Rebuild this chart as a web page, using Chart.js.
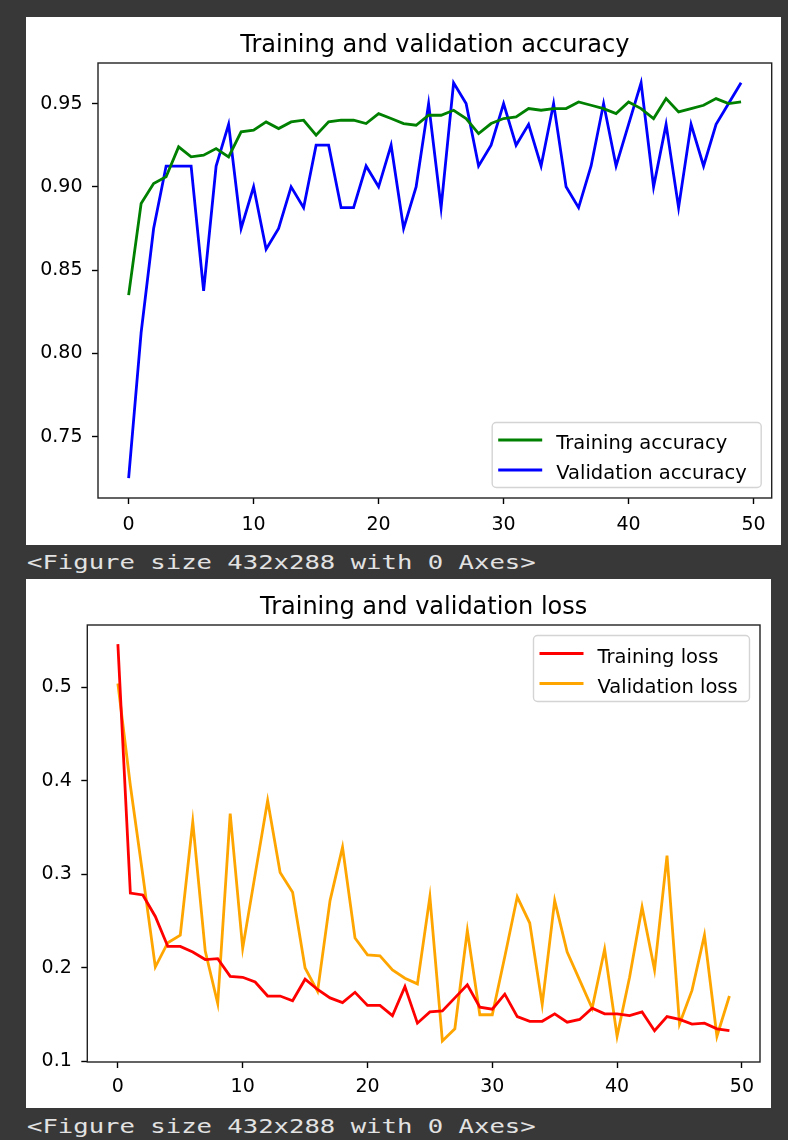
<!DOCTYPE html>
<html lang="en">
<head>
<meta charset="UTF-8" />
<title>Training and validation curves</title>
<script src="https://cdn.jsdelivr.net/npm/chart.js@4.4.1/dist/chart.umd.min.js"></script>
<style>
  html, body { margin: 0; padding: 0; }
  body { width: 788px; height: 1140px; background: #383838; position: relative; overflow: hidden; }
  .panel { position: absolute; left: 26px; background: #fff; }
  #accPanel { top: 17px; width: 755px; height: 528px; }
  #lossPanel { top: 579px; width: 745px; height: 529px; }
  .out {
    position: absolute; left: 27px; margin: 0;
    font-family: "DejaVu Sans Mono", monospace; font-size: 20px; line-height: 20px;
    color: #e2e2e2; white-space: pre;
    transform: scaleX(1.28); transform-origin: left top;
  }
</style>
</head>
<body>
  <div class="panel" id="accPanel"><canvas id="accChart" width="755" height="528"></canvas></div>
  <div class="out" style="top:552px">&lt;Figure size 432x288 with 0 Axes&gt;</div>
  <div class="panel" id="lossPanel"><canvas id="lossChart" width="745" height="529"></canvas></div>
  <div class="out" style="top:1116px">&lt;Figure size 432x288 with 0 Axes&gt;</div>

<script>
// epochs on the x axis
const epochs = [0, 1, 2, 3, 4, 5, 6, 7, 8, 9, 10, 11, 12, 13, 14, 15, 16, 17, 18, 19,
  20, 21, 22, 23, 24, 25, 26, 27, 28, 29, 30, 31, 32, 33, 34, 35, 36, 37, 38, 39,
  40, 41, 42, 43, 44, 45, 46, 47, 48, 49];

// accuracy per epoch
const trainAcc = [0.835, 0.890, 0.902, 0.906, 0.924, 0.918, 0.919, 0.923, 0.918, 0.933,
  0.934, 0.939, 0.935, 0.939, 0.940, 0.931, 0.939, 0.940, 0.940, 0.938,
  0.944, 0.941, 0.938, 0.937, 0.943, 0.943, 0.946, 0.941, 0.932, 0.938,
  0.941, 0.942, 0.947, 0.946, 0.947, 0.947, 0.951, 0.949, 0.947, 0.944,
  0.951, 0.947, 0.941, 0.953, 0.945, 0.947, 0.949, 0.953, 0.950, 0.951];
const valAcc = [0.725, 0.8125, 0.875, 0.9125, 0.9125, 0.9125, 0.8375, 0.9125, 0.9375, 0.875,
  0.900, 0.8625, 0.875, 0.900, 0.8875, 0.925, 0.925, 0.8875, 0.8875, 0.9125,
  0.900, 0.925, 0.875, 0.900, 0.950, 0.8875, 0.9625, 0.950, 0.9125, 0.925,
  0.950, 0.925, 0.9375, 0.9125, 0.950, 0.900, 0.8875, 0.9125, 0.950, 0.9125,
  0.9375, 0.9625, 0.900, 0.9375, 0.8875, 0.9375, 0.9125, 0.9375, 0.950, 0.9625];

// loss per epoch
const trainLoss = [0.546, 0.280, 0.278, 0.255, 0.223, 0.223, 0.217, 0.209, 0.210, 0.191,
  0.190, 0.185, 0.170, 0.170, 0.165, 0.188, 0.177, 0.168, 0.163, 0.174,
  0.160, 0.160, 0.149, 0.180, 0.141, 0.153, 0.154, 0.168, 0.182, 0.158,
  0.156, 0.172, 0.148, 0.143, 0.143, 0.151, 0.142, 0.145, 0.157, 0.151,
  0.151, 0.149, 0.153, 0.133, 0.148, 0.145, 0.140, 0.141, 0.135, 0.133];
const valLoss = [0.504, 0.395, 0.299, 0.201, 0.227, 0.235, 0.356, 0.218, 0.162, 0.365,
  0.221, 0.300, 0.379, 0.302, 0.281, 0.200, 0.175, 0.272, 0.329, 0.232,
  0.214, 0.213, 0.198, 0.189, 0.183, 0.276, 0.122, 0.135, 0.240, 0.150,
  0.150, 0.212, 0.276, 0.248, 0.161, 0.272, 0.217, 0.187, 0.157, 0.220,
  0.127, 0.190, 0.265, 0.198, 0.320, 0.140, 0.176, 0.235, 0.127, 0.170];

// tick positions and labels
const xTicks = [0, 10, 20, 30, 40, 50];
const accTicks = [0.75, 0.80, 0.85, 0.90, 0.95];
const accTickLabels = ['0.75', '0.80', '0.85', '0.90', '0.95'];
const lossTicks = [0.1, 0.2, 0.3, 0.4, 0.5];
const lossTickLabels = ['0.1', '0.2', '0.3', '0.4', '0.5'];

const FONT = '"DejaVu Sans", sans-serif';

function roundRect(ctx, x, y, w, h, r) {
  ctx.beginPath();
  ctx.moveTo(x + r, y);
  ctx.arcTo(x + w, y, x + w, y + h, r);
  ctx.arcTo(x + w, y + h, x, y + h, r);
  ctx.arcTo(x, y + h, x, y, r);
  ctx.arcTo(x, y, x + w, y, r);
  ctx.closePath();
}

// matplotlib style frame: title, four spines and a boxed legend
const mplFrame = {
  id: 'mplFrame',
  afterDraw(chart, args, o) {
    const ctx = chart.ctx, a = chart.chartArea;
    ctx.save();

    ctx.strokeStyle = '#222';
    ctx.lineWidth = 1.4;
    ctx.strokeRect(a.left, a.top, a.right - a.left, a.bottom - a.top);

    ctx.fillStyle = '#000';
    ctx.font = o.titleSize + 'px ' + FONT;
    ctx.textAlign = 'center';
    ctx.textBaseline = 'alphabetic';
    ctx.fillText(o.title, (a.left + a.right) / 2, o.titleY);

    const lx = a.right - o.legGap - o.legW;
    const ly = o.legCorner === 'lower' ? a.bottom - o.legGap - o.legH : a.top + o.legGap;
    roundRect(ctx, lx, ly, o.legW, o.legH, 4);
    ctx.fillStyle = 'rgba(255,255,255,0.8)';
    ctx.fill();
    ctx.strokeStyle = '#d4d4d4';
    ctx.lineWidth = 1.4;
    ctx.stroke();

    ctx.font = o.legSize + 'px ' + FONT;
    ctx.textAlign = 'left';
    chart.data.datasets.forEach((ds, i) => {
      const ry = ly + o.legH / 2 - 15 + i * 30;
      ctx.strokeStyle = ds.borderColor;
      ctx.lineWidth = 2.8;
      ctx.beginPath();
      ctx.moveTo(lx + 6, ry);
      ctx.lineTo(lx + 50, ry);
      ctx.stroke();
      ctx.fillStyle = '#000';
      ctx.fillText(ds.label, lx + 64, ry + 9);
    });
    ctx.restore();
  }
};

function makeChart(id, c) {
  const tickFont = { family: FONT, size: 19 };
  return new Chart(document.getElementById(id), {
    type: 'line',
    data: {
      labels: epochs,
      datasets: c.series.map(s => ({
        label: s.label, data: s.data, borderColor: s.color, backgroundColor: s.color,
        borderWidth: 2.8, pointRadius: 0, tension: 0, fill: false
      }))
    },
    options: {
      responsive: false,
      animation: false,
      events: [],
      layout: { padding: { top: c.padTop, right: c.padRight, left: 0, bottom: 0 } },
      plugins: {
        legend: { display: false },
        tooltip: { enabled: false },
        mplFrame: c.frame
      },
      scales: {
        x: {
          type: 'linear', min: -2.45, max: 51.45,
          afterBuildTicks: s => { s.ticks = xTicks.map(v => ({ value: v })); },
          afterFit: s => { s.height = c.xHeight; },
          grid: { drawOnChartArea: false, tickLength: 6, tickColor: '#000', tickWidth: 1.4 },
          border: { display: false },
          ticks: { font: tickFont, color: '#000', padding: c.xPad, maxRotation: 0, autoSkip: false,
                   callback: v => String(v) }
        },
        y: {
          type: 'linear', min: c.yMin, max: c.yMax,
          afterBuildTicks: s => { s.ticks = c.yTicks.map(v => ({ value: v })); },
          afterFit: s => { s.width = c.yWidth; },
          grid: { drawOnChartArea: false, tickLength: 6, tickColor: '#000', tickWidth: 1.4 },
          border: { display: false },
          ticks: { font: tickFont, color: '#000', padding: 9.5, autoSkip: false,
                   callback: (v, i) => c.yLabels[i] }
        }
      }
    },
    plugins: [mplFrame]
  });
}

makeChart('accChart', {
  series: [
    { label: 'Training accuracy', data: trainAcc, color: '#008000' },
    { label: 'Validation accuracy', data: valAcc, color: '#0000ff' }
  ],
  yMin: 0.713125, yMax: 0.974375, yTicks: accTicks, yLabels: accTickLabels,
  padTop: 46, padRight: 9.3, xHeight: 47, yWidth: 72, xPad: 10,
  frame: { title: 'Training and validation accuracy', titleSize: 24, titleY: 34.7,
           legCorner: 'lower', legGap: 10.5, legW: 269, legH: 65, legSize: 19.5 }
});

makeChart('lossChart', {
  series: [
    { label: 'Training loss', data: trainLoss, color: '#ff0000' },
    { label: 'Validation loss', data: valLoss, color: '#ffa500' }
  ],
  yMin: 0.0995, yMax: 0.5665, yTicks: lossTicks, yLabels: lossTickLabels,
  padTop: 46, padRight: 11, xHeight: 46, yWidth: 61.3, xPad: 7.5,
  frame: { title: 'Training and validation loss', titleSize: 24, titleY: 35,
           legCorner: 'upper', legGap: 10.5, legW: 216, legH: 66, legSize: 19.5 }
});
</script>
</body>
</html>
